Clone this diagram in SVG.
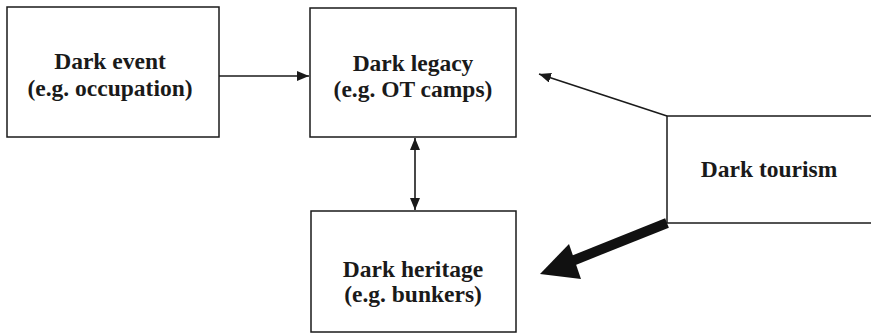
<svg xmlns="http://www.w3.org/2000/svg" width="871" height="333" viewBox="0 0 871 333">
<defs>
<style>
.box{fill:#fff;stroke:#1a1a1a;stroke-width:1.5}
.t{font-family:"Liberation Serif","Times New Roman",serif;font-weight:bold;font-size:23.5px;fill:#1a1a1a;text-anchor:middle}
.c{stroke:#1a1a1a;stroke-width:1.6;fill:none}
</style>
<marker id="ah" viewBox="0 0 12 10" refX="12" refY="5" markerWidth="12" markerHeight="10" markerUnits="userSpaceOnUse" orient="auto-start-reverse">
<path d="M0,0 L12,5 L0,10 Z" fill="#1a1a1a"/>
</marker>
</defs>
<rect width="871" height="333" fill="#fff"/>
<g id="dark-event">
<rect class="box" x="7" y="7" width="212" height="130"/>
<text class="t" x="110" y="69">Dark event</text>
<text class="t" x="110" y="96">(e.g. occupation)</text>
</g>
<g id="dark-legacy">
<rect class="box" x="310" y="8" width="206" height="129"/>
<text class="t" x="413" y="71">Dark legacy</text>
<text class="t" x="413" y="97">(e.g. OT camps)</text>
</g>
<g id="dark-heritage">
<rect class="box" x="311" y="211" width="205" height="121"/>
<text class="t" x="413" y="277">Dark heritage</text>
<text class="t" x="413" y="302">(e.g. bunkers)</text>
</g>
<g id="dark-tourism">
<rect class="box" x="667" y="116" width="210" height="107"/>
<text class="t" x="769" y="177">Dark tourism</text>
</g>
<g id="connectors">
<line class="c" x1="219" y1="76" x2="309" y2="76" marker-end="url(#ah)"/>
<line class="c" x1="415" y1="138" x2="415" y2="210" marker-start="url(#ah)" marker-end="url(#ah)"/>
<line class="c" x1="667" y1="116" x2="539" y2="74" marker-end="url(#ah)"/>
<line stroke="#111" stroke-width="10" x1="667" y1="223" x2="572" y2="261"/>
<path d="M540,274 L569,244 L581,279 Z" fill="#111"/>
</g>
</svg>
